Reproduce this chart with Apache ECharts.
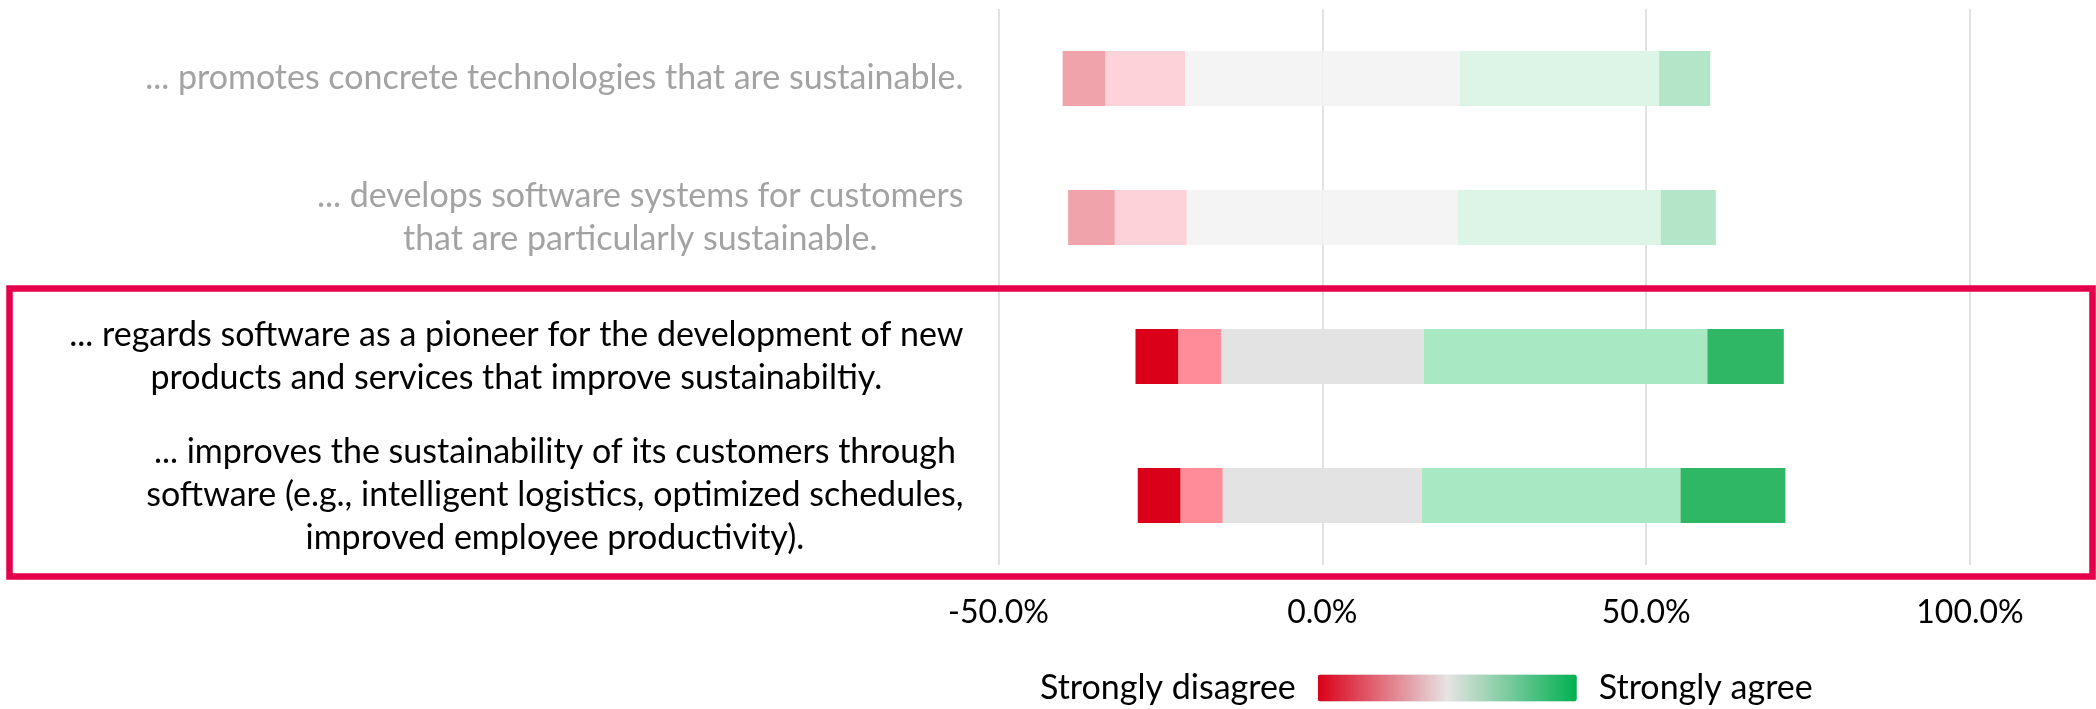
<!DOCTYPE html>
<html>
<head>
<meta charset="utf-8">
<script src="https://cdn.jsdelivr.net/npm/echarts@6/dist/echarts.min.js"></script>
<style>
  html, body { margin: 0; padding: 0; background: #fff; }
  #chart { width: 2096px; height: 709px; }
</style>
</head>
<body>
<div id="chart"></div>
<script>
const categories = [
  "... promotes concrete technologies that are sustainable.",
  "... develops software systems for customers\nthat are particularly sustainable.",
  "... regards software as a pioneer for the development of new\nproducts and services that improve sustainabiltiy.",
  "... improves the sustainability of its customers through\nsoftware (e.g., intelligent logistics, optimized schedules,\nimproved employee productivity)."
];
const highlighted = [false, false, true, true];

// shares in percent, top row first
const stronglyDisagree = [6.6, 7.2, 6.6, 6.6];
const disagree = [12.3, 11.1, 6.6, 6.5];
const neutral = [42.4, 41.9, 31.3, 30.8];
const agree = [30.8, 31.3, 43.8, 39.9];
const stronglyAgree = [7.9, 8.5, 11.8, 16.2];

const xTicks = [-50, 0, 50, 100];

const fullColors = { sd: "#da0019", d: "#ff8c96", n: "#e3e3e3", a: "#a8e8c2", sa: "#2fb765" };
const fadedColors = { sd: "#f0a3ab", d: "#fdd3d9", n: "#f4f4f4", a: "#ddf5e6", sa: "#b3e6c8" };

const FONT = "Lato";

function mkData(vals, key, sign) {
  return vals.map((v, i) => ({
    value: sign * v,
    itemStyle: { color: (highlighted[i] ? fullColors : fadedColors)[key] }
  }));
}

function barSeries(name, data) {
  return {
    name, type: "bar", stack: "likert", barWidth: 55,
    data, silent: true
  };
}

const series = [
  barSeries("Neutral (left)", mkData(neutral.map(v => v / 2), "n", -1)),
  barSeries("Disagree", mkData(disagree, "d", -1)),
  barSeries("Strongly disagree", mkData(stronglyDisagree, "sd", -1)),
  barSeries("Neutral (right)", mkData(neutral.map(v => v / 2), "n", 1)),
  barSeries("Agree", mkData(agree, "a", 1)),
  barSeries("Strongly agree", mkData(stronglyAgree, "sa", 1))
];

const labelRich = {
  g: { color: "#a3a3a3", align: "center", fontSize: 34, lineHeight: 43, fontFamily: FONT },
  b: { color: "#000000", align: "center", fontSize: 34, lineHeight: 43, fontFamily: FONT }
};

const chart = echarts.init(document.getElementById("chart"), null, { renderer: "canvas" });

chart.setOption({
  animation: false,
  backgroundColor: "#ffffff",
  grid: { left: 998.5, right: 126, top: 9, bottom: 144, containLabel: false },
  xAxis: {
    type: "value",
    min: xTicks[0],
    max: xTicks[xTicks.length - 1],
    interval: 50,
    axisLine: { show: false },
    axisTick: { show: false },
    splitLine: { show: true, lineStyle: { color: "#d9d9d9", width: 1.5 } },
    axisLabel: {
      margin: 32,
      fontSize: 32,
      fontFamily: FONT,
      color: "#000",
      formatter: v => v.toFixed(1) + "%"
    }
  },
  yAxis: {
    type: "category",
    inverse: true,
    data: categories,
    axisLine: { show: false },
    axisTick: { show: false },
    axisLabel: {
      margin: 35,
      align: "right",
      formatter: (value, idx) => {
        const tag = highlighted[idx] ? "b" : "g";
        return value.split("\n").map(l => "{" + tag + "|" + l + "}").join("\n");
      },
      rich: labelRich
    }
  },
  visualMap: {
    type: "continuous",
    seriesIndex: [],
    min: 0,
    max: 100,
    orient: "horizontal",
    calculable: false,
    left: 1025,
    top: 656,
    itemWidth: 27,
    itemHeight: 259,
    text: ["Strongly agree", "Strongly disagree"],
    textGap: 22,
    textStyle: { fontSize: 34, color: "#000", fontFamily: FONT },
    inRange: { color: ["#da0019", "#e6e3e3", "#00b050"] }
  },
  graphic: [{
    type: "rect",
    silent: true,
    z: 10,
    shape: { x: 9.5, y: 288.5, width: 2083, height: 288 },
    style: { fill: "none", stroke: "#e4004b", lineWidth: 6.5 }
  }],
  series
});
</script>
</body>
</html>
